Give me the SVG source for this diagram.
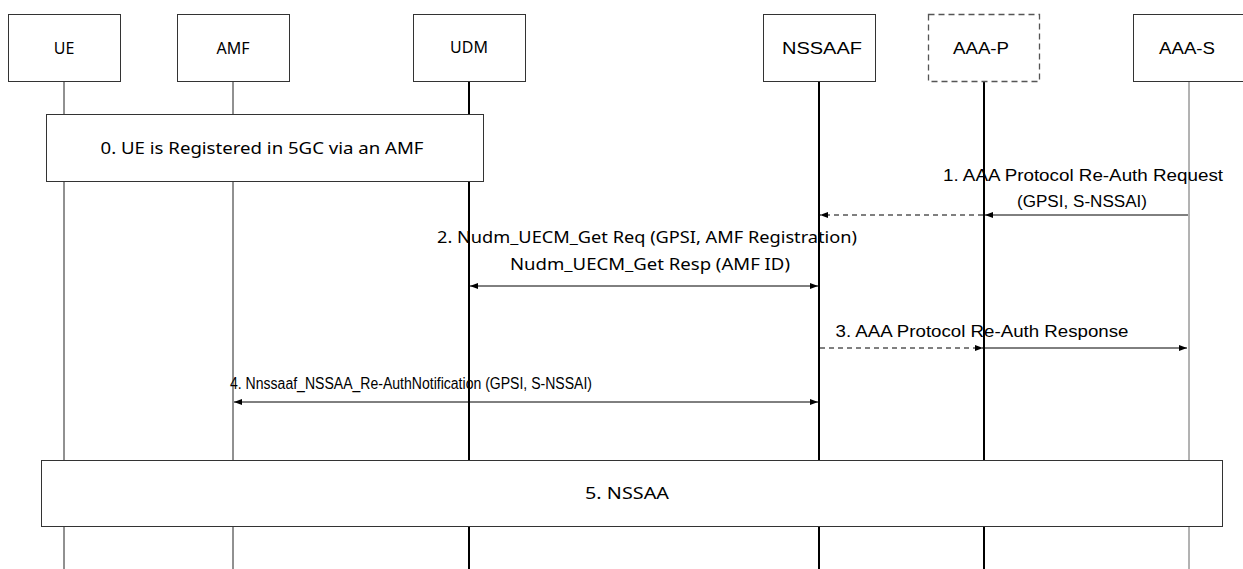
<svg xmlns="http://www.w3.org/2000/svg" width="1243" height="569" viewBox="0 0 1243 569">
<defs>
<style>
.box{fill:#fff;stroke:#333;stroke-width:1}
.dbox{fill:#fff;stroke:#555;stroke-width:1.3;stroke-dasharray:6 4}
.t{font-family:"Noto Sans","Open Sans",sans-serif;font-size:16px;fill:#000;text-anchor:middle}
.a{font-family:"Liberation Sans",Arial,sans-serif;font-size:16px;fill:#000;text-anchor:middle}
.thin{stroke:#222;stroke-width:1}
.thick{stroke:#000;stroke-width:2}
.gray{stroke:#666;stroke-width:1}
.msg{stroke:#000;stroke-width:1;fill:none}
.dash{stroke:#000;stroke-width:1;fill:none;stroke-dasharray:5 4}
</style>
<marker id="ah" viewBox="0 0 8 6" refX="8" refY="3" markerWidth="8" markerHeight="6" markerUnits="userSpaceOnUse" orient="auto-start-reverse">
<path d="M0,0 L8,3 L0,6 z" fill="#000"/>
</marker>
</defs>
<g id="lifelines">
<line class="thin" x1="64" y1="81" x2="64" y2="569"/>
<line class="thin" x1="233" y1="81" x2="233" y2="569"/>
<line class="thick" x1="469" y1="81" x2="469" y2="569"/>
<line class="thick" x1="819" y1="81" x2="819" y2="569"/>
<line class="thick" x1="984" y1="81" x2="984" y2="569"/>
<line class="gray" x1="1189" y1="81" x2="1189" y2="569"/>
</g>
<g id="node-ue"><rect class="box" x="8.5" y="14.5" width="112" height="67"/><text class="t" x="64" y="54">UE</text></g>
<g id="node-amf"><rect class="box" x="177.5" y="14.5" width="112" height="67"/><text class="t" x="233" y="54">AMF</text></g>
<g id="node-udm"><rect class="box" x="413.5" y="14.5" width="112" height="67"/><text class="t" x="469" y="53">UDM</text></g>
<g id="node-nssaaf"><rect class="box" x="763.5" y="14.5" width="112" height="67"/><text class="a" x="822" y="54" textLength="80" lengthAdjust="spacingAndGlyphs">NSSAAF</text></g>
<g id="node-aaap"><rect class="dbox" x="928.5" y="14.5" width="111" height="67"/><text class="a" x="981" y="54" textLength="56" lengthAdjust="spacingAndGlyphs">AAA-P</text></g>
<g id="node-aaas"><rect class="box" x="1133.5" y="14.5" width="112" height="67"/><text class="a" x="1187" y="54" textLength="56" lengthAdjust="spacingAndGlyphs">AAA-S</text></g>
<g id="node-step0"><rect class="box" x="46.5" y="114.5" width="437" height="67"/><text class="t" x="262" y="154" textLength="323" lengthAdjust="spacingAndGlyphs">0. UE is Registered in 5GC via an AMF</text></g>
<g id="node-step5"><rect class="box" x="41.5" y="460.5" width="1181" height="66"/><text class="t" x="627" y="499" font-size="17" textLength="84" lengthAdjust="spacingAndGlyphs">5. NSSAA</text></g>
<g id="connectors">
<line class="msg" x1="1188" y1="215" x2="985" y2="215" marker-end="url(#ah)"/>
<line class="dash" x1="983" y1="215" x2="820" y2="215" marker-end="url(#ah)"/>
<text class="a" x="1083" y="181" textLength="280" lengthAdjust="spacingAndGlyphs">1. AAA Protocol Re-Auth Request</text>
<text class="a" x="1082" y="207" textLength="130" lengthAdjust="spacingAndGlyphs">(GPSI, S-NSSAI)</text>
<line class="msg" x1="470" y1="286" x2="818" y2="286" marker-start="url(#ah)" marker-end="url(#ah)"/>
<text class="t" x="647" y="243" textLength="420" lengthAdjust="spacingAndGlyphs">2. Nudm_UECM_Get Req (GPSI, AMF Registration)</text>
<text class="t" x="650" y="270" textLength="280" lengthAdjust="spacingAndGlyphs">Nudm_UECM_Get Resp (AMF ID)</text>
<line class="dash" x1="820" y1="348" x2="983" y2="348" marker-end="url(#ah)"/>
<line class="msg" x1="985" y1="348" x2="1187" y2="348" marker-end="url(#ah)"/>
<text class="a" x="982" y="337" textLength="293" lengthAdjust="spacingAndGlyphs">3. AAA Protocol Re-Auth Response</text>
<line class="msg" x1="234" y1="402" x2="818" y2="402" marker-start="url(#ah)" marker-end="url(#ah)"/>
<text class="a" x="411" y="389" font-size="18" textLength="362" lengthAdjust="spacingAndGlyphs">4. Nnssaaf_NSSAA_Re-AuthNotification (GPSI, S-NSSAI)</text>
</g>
</svg>
